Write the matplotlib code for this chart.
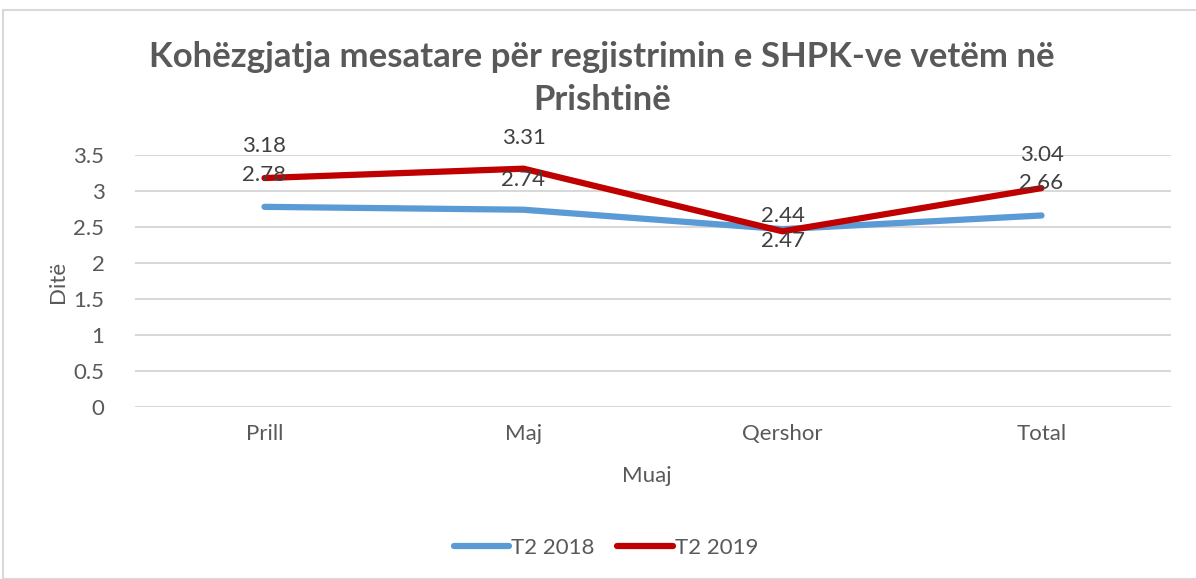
import matplotlib
matplotlib.use("Agg")
import matplotlib.pyplot as plt
from matplotlib.patches import Rectangle

categories = ["Prill", "Maj", "Qershor", "Total"]
t2_2018 = [2.78, 2.74, 2.47, 2.66]
t2_2019 = [3.18, 3.31, 2.44, 3.04]
yticks = [0, 0.5, 1, 1.5, 2, 2.5, 3, 3.5]

plt.rcParams['font.family'] = ['Lato', 'DejaVu Sans']
W, H = 1196, 579
fig = plt.figure(figsize=(W/100, H/100), dpi=100)
fig.patch.set_facecolor("white")

# chart border
fig.patches.append(Rectangle((3/W, 0), 1.2, 1 - 10/H, transform=fig.transFigure,
                             fill=False, edgecolor="#D9D9D9", linewidth=1.5))

ax = fig.add_axes([135/W, 1 - 407/H, (1171-135)/W, (407-155)/H])
x = list(range(len(categories)))
ax.set_xlim(-0.5, len(categories) - 0.5)
ax.set_ylim(0, 3.5)
ax.set_yticks(yticks)
ax.set_yticklabels([f"{v:g}" for v in yticks])
ax.grid(axis="y", color="#D9D9D9", linewidth=1.5)
ax.set_axisbelow(True)
for s in ax.spines.values():
    s.set_visible(False)
ax.tick_params(length=0, labelsize=16, colors="#595959", pad=22)
ax.tick_params(axis="x", pad=12)
ax.set_xticks(x)
ax.set_xticklabels(categories)

l1, = ax.plot(x, t2_2018, color="#5B9BD5", linewidth=4.5, solid_capstyle="round", label="T2 2018")
l2, = ax.plot(x, t2_2019, color="#C00000", linewidth=4.5, solid_capstyle="round", label="T2 2019")

off18 = [32, 30, -12, 32]
off19 = [32, 31, 15, 33]
for i in x:
    ax.annotate(f"{t2_2018[i]:.2f}", (i, t2_2018[i]), xytext=(0, off18[i]), textcoords="offset pixels",
                ha="center", va="center", fontsize=16, color="#404040")
    ax.annotate(f"{t2_2019[i]:.2f}", (i, t2_2019[i]), xytext=(0, off19[i]), textcoords="offset pixels",
                ha="center", va="center", fontsize=16, color="#404040")

fig.text(602/W, 1 - 57/H, "Kohëzgjatja mesatare për regjistrimin e SHPK-ve vetëm në",
         ha="center", va="center", fontsize=25, fontweight="bold", color="#595959")
fig.text(602/W, 1 - 100/H, "Prishtinë",
         ha="center", va="center", fontsize=25, fontweight="bold", color="#595959")

fig.text(58/W, 1 - 282/H, "Ditë", rotation=90, ha="center", va="center", fontsize=16, color="#595959")
fig.text(647/W, 1 - 476/H, "Muaj", ha="center", va="center", fontsize=16, color="#595959")

fig.legend(handles=[l1, l2], loc="center", bbox_to_anchor=(606/W, 1 - 548/H), ncol=2, frameon=False,
           fontsize=16, labelcolor="#595959", handlelength=2.5, handletextpad=0.1, columnspacing=1.0)

fig.savefig("out.png", dpi=100, facecolor="white")
